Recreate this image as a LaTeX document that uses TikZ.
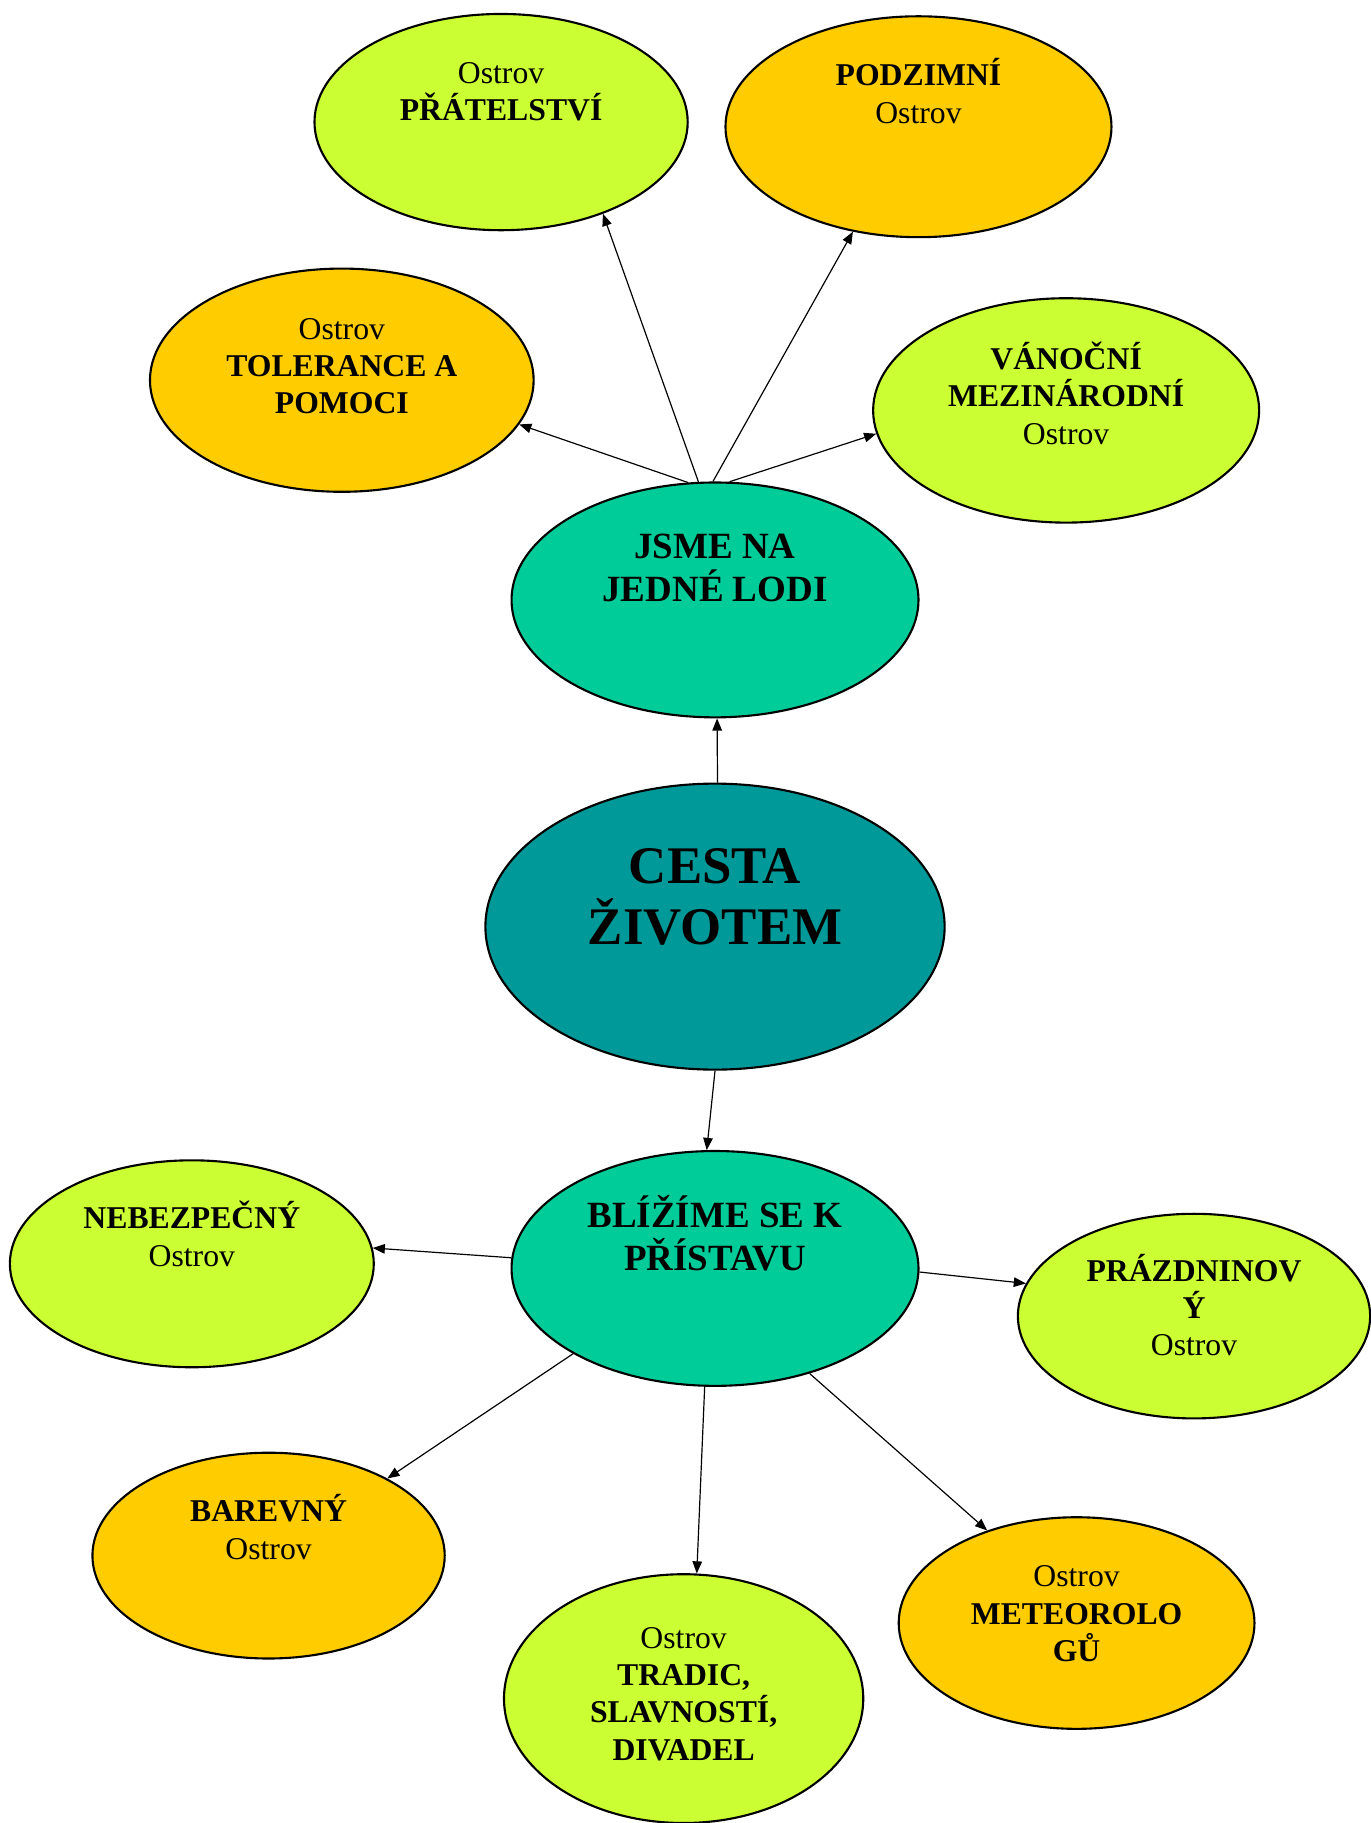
\documentclass[tikz,border=0pt]{standalone}
\usepackage{fontspec}
\setmainfont{Liberation Serif}
\usetikzlibrary{shapes.geometric,arrows.meta}
\definecolor{limeisle}{HTML}{CCFF33}
\definecolor{orangeisle}{HTML}{FFCC00}
\definecolor{shipteal}{HTML}{00CC99}
\definecolor{lifeteal}{HTML}{009999}
\begin{document}
\begin{tikzpicture}[x=0.44pt,y=-0.44pt,
  isle/.style n args={3}{ellipse,draw,line width=0.8pt,fill=#1,inner sep=0pt,minimum width=#2*0.44pt,minimum height=#3*0.44pt},
  txt/.style={anchor=base,align=center,inner sep=0pt,font=\fontsize{12}{14.1}\selectfont},
  bigtxt/.style={txt,font=\bfseries\fontsize{14}{16.1}\selectfont},
  arr/.style={-{Triangle[length=4.6pt,width=3.6pt]},line width=0.45pt}]
\useasboundingbox (0,0) rectangle (1179,1568);
\node[isle={limeisle}{321}{186}] (pratelstvi) at (431,105) {};
\node[isle={orangeisle}{332}{190}] (podzimni) at (790,109) {};
\node[isle={orangeisle}{330}{192}] (tolerance) at (294,327) {};
\node[isle={limeisle}{332}{193}] (vanocni) at (917,353) {};
\node[isle={shipteal}{350}{202}] (lod) at (615,516) {};
\node[isle={lifeteal}{395}{246}] (cesta) at (615,797) {};
\node[isle={shipteal}{350}{202}] (pristav) at (615,1091) {};
\node[isle={limeisle}{313}{178}] (nebezpecny) at (165,1087) {};
\node[isle={limeisle}{303}{176}] (prazdniny) at (1027,1132) {};
\node[isle={orangeisle}{303}{177}] (barevny) at (231,1338) {};
\node[isle={limeisle}{309}{214}] (tradice) at (588,1461) {};
\node[isle={orangeisle}{306}{182}] (meteo) at (926,1396) {};
\node[txt] (pratelstvi-t) at (431,104) {Ostrov\\\textbf{PŘÁTELSTVÍ}};
\node[txt] (podzimni-t) at (790,106) {\textbf{PODZIMNÍ}\\Ostrov};
\node[txt] (tolerance-t) at (294,356) {Ostrov\\\textbf{TOLERANCE A}\\\textbf{POMOCI}};
\node[txt] (vanocni-t) at (917,382) {\textbf{VÁNOČNÍ}\\\textbf{MEZINÁRODNÍ}\\Ostrov};
\node[bigtxt] (lod-t) at (615,517) {JSME NA\\JEDNÉ LODI};
\node[txt,font=\bfseries\fontsize{20}{23}\selectfont] (cesta-t) at (615,812) {CESTA\\ŽIVOTEM};
\node[bigtxt] (pristav-t) at (615,1092.5) {BLÍŽÍME SE K\\PŘÍSTAVU};
\node[txt] (nebezpecny-t) at (165,1089) {\textbf{NEBEZPEČNÝ}\\Ostrov};
\node[txt] (prazdniny-t) at (1027,1166) {\textbf{PRÁZDNINOV}\\\textbf{Ý}\\Ostrov};
\node[txt] (barevny-t) at (231,1341) {\textbf{BAREVNÝ}\\Ostrov};
\node[txt] (tradice-t) at (588,1514) {Ostrov\\\textbf{TRADIC,}\\\textbf{SLAVNOSTÍ,}\\\textbf{DIVADEL}};
\node[txt] (meteo-t) at (926,1429) {Ostrov\\\textbf{METEOROLO}\\\textbf{GŮ}};
\foreach \a/\p/\b/\q in {lod/98/pratelstvi/-42,lod/91/podzimni/-122,lod/103/tolerance/-14,lod/83/vanocni/-173,
  cesta/89/lod/-89,cesta/-90/pristav/94,pristav/177/nebezpecny/5,pristav/-1/prazdniny/169,
  pristav/-149/barevny/33,pristav/-95/tradice/84,pristav/-48/meteo/134}
  {\draw[arr](\a.\p)--(\b.\q);}
\end{tikzpicture}
\end{document}
